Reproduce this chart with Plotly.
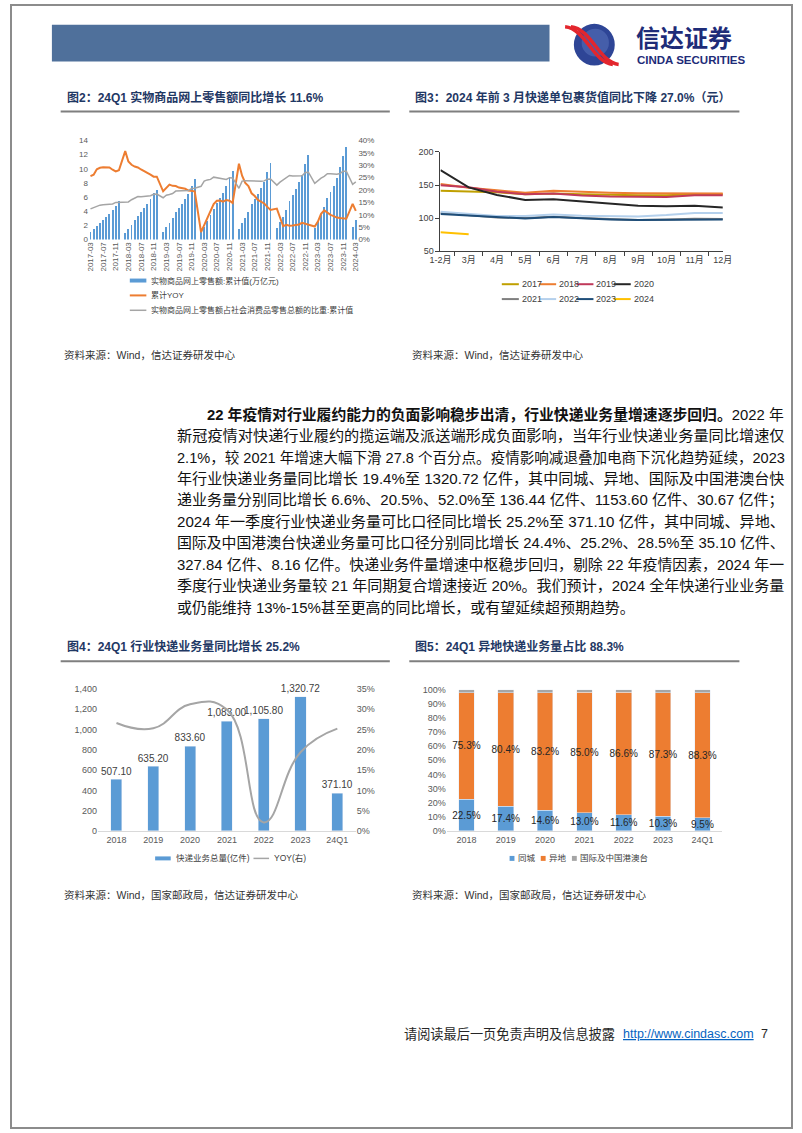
import plotly.graph_objects as go

W, H = 802, 1133


def fx(x):
    return x / W


def fy(y):
    return 1 - y / H


FONT = "Liberation Sans, Noto Sans CJK SC, sans-serif"
TITLE_COLOR = "#1F3864"
TICK = "#595959"
BLUE = "#5B9BD5"
ORANGE = "#ED7D31"
GRAY = "#A5A5A5"

# ---------------- Figure 2 data ----------------
month_labels = [f"{y}-{m:02d}" for y in range(2017, 2025) for m in range(1, 13)][2:87]
month_ticks = month_labels[::4]

# 实物商品网上零售额:累计值(万亿元)  (Jan has no standalone value)
online_retail_cum = (
    [1.12, 1.49, 1.92, 2.34, 2.75, 3.17, 3.64, 4.12, 4.79, 5.48]
    + [None, 0.98, 1.56, 2.11, 2.70, 3.30, 3.87, 4.45, 5.06, 5.72, 6.56, 7.02]
    + [None, 1.10, 1.74, 2.33, 2.99, 3.83, 4.44, 5.07, 5.72, 6.38, 7.60, 8.52]
    + [None, 1.14, 1.85, 2.60, 3.45, 4.36, 5.13, 5.85, 6.60, 7.60, 8.82, 9.76]
    + [None, 1.48, 2.30, 3.07, 3.86, 5.02, 5.75, 6.45, 7.26, 8.16, 9.52, 10.80]
    + [None, 1.60, 2.50, 3.26, 4.13, 5.45, 6.28, 7.16, 8.16, 9.10, 10.68, 11.96]
    + [None, 1.69, 2.69, 3.59, 4.55, 5.86, 6.74, 7.64, 8.66, 10.29, 11.83, 13.02]
    + [None, 1.85, 2.83]
)
# 累计YOY (%)
retail_yoy = (
    [25.6, 26.2, 28.4, 29.0, 29.2, 29.1, 29.1, 28.2, 27.5, 28.0]
    + [None, 35.7, 31.5, 30.2, 29.5, 29.1, 28.3, 27.7, 27.0, 26.2, 25.4, 25.4]
    + [None, 19.5, 21.0, 22.2, 21.7, 21.6, 21.0, 20.8, 20.5, 19.8, 19.7, 19.5]
    + [None, 3.0, 5.9, 8.6, 11.5, 14.3, 15.7, 15.8, 15.3, 16.0, 15.7, 14.8]
    + [None, 30.6, 25.8, 22.9, 21.6, 18.7, 17.6, 16.0, 15.2, 14.6, 13.2, 12.0]
    + [None, 12.5, 8.8, 5.4, 6.0, 5.6, 5.7, 5.8, 6.1, 6.8, 6.4, 6.2]
    + [None, 5.3, 7.3, 10.4, 11.8, 10.8, 10.0, 9.5, 8.9, 8.7, 8.5, 8.4]
    + [None, 14.4, 11.6]
)
# 实物商品网上零售额占社会消费品零售总额的比重:累计值 (%)
retail_share = (
    [12.4, 13.0, 13.5, 13.9, 14.1, 14.2, 14.3, 14.4, 15.0, 15.0]
    + [None, 15.0, 15.2, 16.1, 16.6, 17.4, 17.3, 17.4, 17.6, 17.7, 18.3, 18.4]
    + [None, 16.9, 17.9, 18.2, 18.6, 19.6, 19.7, 19.7, 19.8, 19.8, 20.6, 20.7]
    + [None, 21.5, 23.6, 24.1, 24.3, 25.2, 25.0, 24.6, 24.3, 24.3, 25.0, 24.9]
    + [None, 20.7, 23.6, 23.8, 23.7, 23.7, 23.6, 23.6, 23.6, 23.7, 24.4, 24.5]
    + [None, 22.0, 23.2, 24.1, 25.1, 25.9, 25.7, 25.7, 25.7, 25.8, 27.1, 27.2]
    + [None, 22.7, 23.9, 24.8, 25.5, 26.6, 26.6, 26.4, 26.4, 26.7, 27.6, 27.6]
    + [None, 22.3, 23.3]
)
fig2_names = ["实物商品网上零售额:累计值(万亿元)", "累计YOY", "实物商品网上零售额占社会消费品零售总额的比重:累计值"]

# ---------------- Figure 3 data ----------------
c3_months = ["1-2月", "3月", "4月", "5月", "6月", "7月", "8月", "9月", "10月", "11月", "12月"]
c3_years = ["2017", "2018", "2019", "2020", "2021", "2022", "2023", "2024"]
uv_2017 = [141.5, 140, 139, 136, 137, 136, 135, 134.5, 134.5, 136, 136]
uv_2018 = [151.5, 146, 142, 138.5, 141.5, 139.5, 138.5, 137.5, 137, 137.5, 137]
uv_2019 = [149.5, 146.5, 140, 136, 137, 134, 132.5, 132, 132, 134.5, 134.5]
uv_2020 = [172.5, 146.5, 135, 127.5, 128.5, 125, 121.5, 118.5, 118, 118.5, 116]
uv_2021 = [108, 105, 101, 100, 102, 100, 98, 97, 98, 99, 98.5]
uv_2022 = [109.5, 106, 103, 103, 105.5, 103.5, 102.5, 102.5, 104.5, 107.5, 107.5]
uv_2023 = [106, 104, 101, 99.5, 101.5, 99.5, 98, 97, 97.5, 98.5, 98]
uv_2024 = [78.5, 75.5]
c3_values = [uv_2017, uv_2018, uv_2019, uv_2020, uv_2021, uv_2022, uv_2023, uv_2024]
c3_colors = ["#C0A000", "#ED7D31", "#C0395A", "#262626", "#7F7F7F", "#B4D0EC", "#1F4E79", "#FFC000"]

# ---------------- Figure 4 data ----------------
c4_cats = ["2018", "2019", "2020", "2021", "2022", "2023", "24Q1"]
express_volume = [507.10, 635.20, 833.60, 1083.00, 1105.80, 1320.72, 371.10]
express_yoy = [0.266, 0.253, 0.312, 0.299, 0.021, 0.194, 0.252]
c4_names = ["快递业务总量(亿件)", "YOY(右)"]

# ---------------- Figure 5 data ----------------
c5_cats = ["2018", "2019", "2020", "2021", "2022", "2023", "24Q1"]
share_same_city = [22.5, 17.4, 14.6, 13.0, 11.6, 10.3, 9.5]
share_intercity = [75.3, 80.4, 83.2, 85.0, 86.6, 87.3, 88.3]
share_international = [2.2, 2.2, 2.2, 2.0, 1.8, 2.4, 2.2]
c5_names = ["同城", "异地", "国际及中国港澳台"]
c5_colors = [BLUE, ORANGE, GRAY]

# ---------------- Text ----------------
para_lines = [
    "<b>22 年疫情对行业履约能力的负面影响稳步出清，行业快递业务量增速逐步回归。</b>2022 年",
    "新冠疫情对快递行业履约的揽运端及派送端形成负面影响，当年行业快递业务量同比增速仅",
    "2.1%，较 2021 年增速大幅下滑 27.8 个百分点。疫情影响减退叠加电商下沉化趋势延续，2023",
    "年行业快递业务量同比增长 19.4%至 1320.72 亿件，其中同城、异地、国际及中国港澳台快",
    "递业务量分别同比增长 6.6%、20.5%、52.0%至 136.44 亿件、1153.60 亿件、30.67 亿件；",
    "2024 年一季度行业快递业务量可比口径同比增长 25.2%至 371.10 亿件，其中同城、异地、",
    "国际及中国港澳台快递业务量可比口径分别同比增长 24.4%、25.2%、28.5%至 35.10 亿件、",
    "327.84 亿件、8.16 亿件。快递业务件量增速中枢稳步回归，剔除 22 年疫情因素，2024 年一",
    "季度行业快递业务量较 21 年同期复合增速接近 20%。我们预计，2024 全年快递行业业务量",
    "或仍能维持 13%-15%甚至更高的同比增长，或有望延续超预期趋势。",
]

fig = go.Figure()

# ---- Figure 2 traces ----
fig.add_trace(go.Bar(x=month_labels, y=online_retail_cum, xaxis="x", yaxis="y",
                     marker=dict(color=BLUE, line=dict(width=0)), width=0.6, name=fig2_names[0]))
fig.add_trace(go.Scatter(x=month_labels, y=retail_yoy, xaxis="x", yaxis="y2", mode="lines",
                         connectgaps=True, line=dict(color=ORANGE, width=2), name=fig2_names[1]))
fig.add_trace(go.Scatter(x=month_labels, y=retail_share, xaxis="x", yaxis="y2", mode="lines",
                         connectgaps=True, line=dict(color=GRAY, width=1.5), name=fig2_names[2]))

# ---- Figure 3 traces ----
for yr, vals, col in zip(c3_years, c3_values, c3_colors):
    fig.add_trace(go.Scatter(x=c3_months[:len(vals)], y=vals, xaxis="x3", yaxis="y3", mode="lines",
                             line=dict(color=col, width=2), name=yr))

# ---- Figure 4 traces ----
fig.add_trace(go.Bar(x=c4_cats, y=express_volume, xaxis="x4", yaxis="y4", width=0.3,
                     marker=dict(color=BLUE), name=c4_names[0],
                     texttemplate="%{y:,.2f}", textposition="outside", constraintext="none",
                     textangle=0, cliponaxis=False,
                     textfont=dict(family=FONT, size=10, color="#404040")))
fig.add_trace(go.Scatter(x=c4_cats, y=express_yoy, xaxis="x4", yaxis="y5", mode="lines",
                         line=dict(color=GRAY, width=2, shape="spline", smoothing=1.3), name=c4_names[1]))

# ---- Figure 5 traces ----
for vals, nm, col, show in zip([share_same_city, share_intercity, share_international],
                               c5_names, c5_colors, [True, True, False]):
    fig.add_trace(go.Bar(x=c5_cats, y=vals, xaxis="x6", yaxis="y6", width=0.4, name=nm,
                         marker=dict(color=col),
                         texttemplate="%{y:.1f}%" if show else None,
                         textposition="inside" if show else "none",
                         insidetextanchor="middle", constraintext="none", textangle=0,
                         textfont=dict(family=FONT, size=10, color="#262626")))

tick_font = dict(family=FONT, size=8, color=TICK)
tick_font9 = dict(family=FONT, size=9, color=TICK)

fig.update_layout(
    width=W, height=H, margin=dict(l=0, r=0, t=0, b=0),
    paper_bgcolor="white", plot_bgcolor="rgba(0,0,0,0)",
    showlegend=False, barmode="stack", font=dict(family=FONT), hovermode=False,
    # Figure 2
    xaxis=dict(domain=[fx(80), fx(355.7)], anchor="y", type="category", categoryorder="array",
               categoryarray=month_labels, tickmode="array", tickvals=month_ticks, ticktext=month_ticks,
               tickangle=-90, tickfont=tick_font, showgrid=False, showline=False, ticks="",
               range=[-0.5, len(month_labels) - 0.5]),
    yaxis=dict(domain=[fy(236.7), fy(136.7)], anchor="x", range=[0, 14], dtick=2, showgrid=False,
               zeroline=False, tickfont=tick_font),
    yaxis2=dict(overlaying="y", anchor="x", side="right", range=[0, 40], dtick=5, ticksuffix="%",
                showgrid=False, zeroline=False, tickfont=tick_font),
    # Figure 3
    xaxis3=dict(domain=[fx(441), fx(731)], anchor="y3", type="category", showline=True,
                linecolor="#404040", linewidth=1, ticks="outside", tickson="boundaries", ticklen=4,
                tickcolor="#404040", tickangle=0, tickfont=dict(family=FONT, size=9, color="#404040"),
                showgrid=False),
    yaxis3=dict(domain=[fy(248.3), fy(148.3)], anchor="x3", range=[50, 200], dtick=50, showline=True,
                linecolor="#404040", linewidth=1, ticks="outside", ticklen=4, tickcolor="#404040",
                tickfont=dict(family=FONT, size=9, color="#404040"), showgrid=False, zeroline=False),
    # Figure 4
    xaxis4=dict(domain=[fx(89.4), fx(354)], anchor="y4", type="category", showline=True,
                linecolor="#D9D9D9", ticks="", tickfont=tick_font9, showgrid=False),
    yaxis4=dict(domain=[fy(833.3), fy(690)], anchor="x4", range=[0, 1400], dtick=200, tickformat=",",
                showgrid=False, zeroline=False, tickfont=tick_font9),
    yaxis5=dict(overlaying="y4", anchor="x4", side="right", range=[0, 0.35], dtick=0.05,
                tickformat=".0%", showgrid=False, zeroline=False, tickfont=tick_font9),
    # Figure 5
    xaxis6=dict(domain=[fx(447.5), fx(730.2)], anchor="y6", type="category", showline=True,
                linecolor="#D9D9D9", ticks="", tickfont=tick_font9, showgrid=False),
    yaxis6=dict(domain=[fy(833.3), fy(690.7)], anchor="x6", range=[0, 100], dtick=10, ticksuffix="%",
                showgrid=False, zeroline=False, tickfont=tick_font9),
)

shapes = []
annots = []


def ann(x, y, text, size, color="#262626", xanchor="left", family=FONT, yanchor="middle"):
    annots.append(dict(x=fx(x), y=fy(y), xref="paper", yref="paper", text=text, showarrow=False,
                       xanchor=xanchor, yanchor=yanchor, align="left",
                       font=dict(family=family, size=size, color=color)))


def hline(x0, x1, y, color, width):
    shapes.append(dict(type="line", xref="paper", yref="paper", x0=fx(x0), x1=fx(x1), y0=fy(y), y1=fy(y),
                       line=dict(color=color, width=width)))


def rect(x0, y0, x1, y1, color):
    shapes.append(dict(type="rect", xref="paper", yref="paper", x0=fx(x0), x1=fx(x1), y0=fy(y1), y1=fy(y0),
                       fillcolor=color, line=dict(width=0)))


# page frame
shapes.append(dict(type="rect", xref="paper", yref="paper", x0=0, x1=1, y0=0, y1=1,
                   line=dict(color="#8C8C8C", width=2)))
# header bar
rect(42, 20, 553, 57, "#4F709B")
# logo
shapes.append(dict(type="circle", xref="paper", yref="paper", x0=fx(578), x1=fx(620), y0=fy(61), y1=fy(19),
                   fillcolor="#2E4596", line=dict(width=0)))
shapes.append(dict(type="circle", xref="paper", yref="paper", x0=fx(586), x1=fx(614), y0=fy(52), y1=fy(24),
                   fillcolor="#5A72BC", line=dict(width=0), opacity=0.55))
for off in (0, 6):
    p0 = (569 + off, 22)
    c1 = (590 + off, 24)
    c2 = (598 + off, 58)
    p1 = (618 + off, 60)
    path = "M {:.5f},{:.5f} C {:.5f},{:.5f} {:.5f},{:.5f} {:.5f},{:.5f}".format(
        fx(p0[0]), fy(p0[1]), fx(c1[0]), fy(c1[1]), fx(c2[0]), fy(c2[1]), fx(p1[0]), fy(p1[1]))
    shapes.append(dict(type="path", xref="paper", yref="paper", path=path,
                       line=dict(color="#E3262D", width=3.5)))
ann(640, 32, "<b>信达证券</b>", 24, color="#1E2C78", family="Noto Sans CJK SC, sans-serif")
ann(641, 55, "<b>CINDA SECURITIES</b>", 11.5, color="#1E2C78")

# chart titles and underlines
ann(55, 93.5, "<b>图2：24Q1 实物商品网上零售额同比增长 11.6%</b>", 12, color=TITLE_COLOR)
ann(413, 93.5, "<b>图3：2024 年前 3 月快递单包裹货值同比下降 27.0%（元）</b>", 12, color=TITLE_COLOR)
ann(55, 647, "<b>图4：24Q1 行业快递业务量同比增长 25.2%</b>", 12, color=TITLE_COLOR)
ann(413, 647, "<b>图5：24Q1 异地快递业务量占比 88.3%</b>", 12, color=TITLE_COLOR)
hline(51, 389, 107.5, "#7F7F7F", 2)
hline(409, 748, 107.5, "#7F7F7F", 2)
hline(51, 389, 662, "#7F7F7F", 2)
hline(409, 748, 662, "#7F7F7F", 2)

# sources
src1 = "资料来源：Wind，信达证券研发中心"
src2 = "资料来源：Wind，国家邮政局，信达证券研发中心"
ann(52, 353, src1, 10.5, color="#333333")
ann(410, 353, src1, 10.5, color="#333333")
ann(52, 898, src2, 10.5, color="#333333")
ann(410, 898, src2, 10.5, color="#333333")

# ---- legends (figure 2) ----
leg2_y = [278, 293, 308]
rect(122, leg2_y[0] - 2, 139, leg2_y[0] + 2, BLUE)
hline(122, 139, leg2_y[1], ORANGE, 2)
hline(122, 139, leg2_y[2], GRAY, 1.5)
for yy, nm in zip(leg2_y, fig2_names):
    ann(142, yy, nm, 8, color="#404040")

# ---- legends (figure 3) ----
for i, (yr, col) in enumerate(zip(c3_years, c3_colors)):
    row, colno = divmod(i, 4)
    x0 = 504 + colno * 38.3
    yy = 281.7 + row * 15
    hline(x0, x0 + 17.5, yy, col, 2)
    ann(x0 + 18.5, yy, yr, 9, color="#404040")

# ---- legends (figure 4) ----
rect(148, 859, 164, 863, BLUE)
ann(167, 861, c4_names[0], 8.5, color="#404040")
hline(249, 265, 861, GRAY, 1.5)
ann(268, 861, c4_names[1], 8.5, color="#404040")

# ---- legends (figure 5) ----
for x0, nm, col in zip([512, 544, 576], c5_names, c5_colors):
    rect(x0, 858.5, x0 + 5, 863.5, col)
    ann(x0 + 6.5, 861, nm, 8.5, color="#404040")


# ---- paragraph ----
def em_len(s):
    s = s.replace("<b>", "").replace("</b>", "")
    t = 0.0
    for ch in s:
        if ord(ch) > 0x2E80:
            t += 1.0
        elif ch.isdigit():
            t += 0.556
        elif ch in ".,;: ":
            t += 0.278
        elif ch == "%":
            t += 0.889
        elif ch == "-":
            t += 0.333
        else:
            t += 0.6
    return t


right_edge = 776
sizes = []
for i, line in enumerate(para_lines[:-1]):
    x0 = 199 if i == 0 else 168
    s = (right_edge - x0) / em_len(line)
    sizes.append(max(14.2, min(16.0, s)))
sizes.append(sum(sizes) / len(sizes))
for i, line in enumerate(para_lines):
    x0 = 199 if i == 0 else 168
    y = 413 + i * 21.6
    ann(x0, y, line, sizes[i], color="#111111")

# footer
ann(402, 1038, "请阅读最后一页免责声明及信息披露", 13.2, color="#262626")
ann(626, 1038, "<u>http://www.cindasc.com</u>", 12.5, color="#0563C1")
ann(768, 1038, "7", 12.5, color="#262626")

fig.update_layout(shapes=shapes, annotations=annots)
fig.write_html("out.html", config={"displayModeBar": False, "staticPlot": True},
               post_script="document.body.style.margin='0px';")
